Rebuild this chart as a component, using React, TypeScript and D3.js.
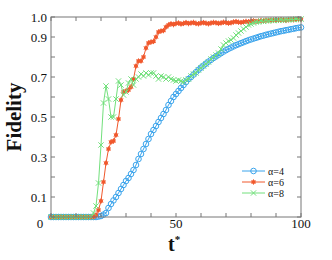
import React from "react";
import * as d3 from "d3";

const tValues = d3.range(0, 101);

// alpha = 4, blue circles
const fid4 = [
  0, 0, 0, 0, 0, 0, 0, 0, 0, 0,
  0, 0, 0, 0, 0, 0, 0, 0, 0, 0.002,
  0.005, 0.012, 0.02, 0.045, 0.065, 0.083, 0.1, 0.12, 0.14, 0.16,
  0.18, 0.195, 0.215, 0.235, 0.26, 0.29, 0.315, 0.34, 0.365, 0.39,
  0.415, 0.435, 0.455, 0.475, 0.495, 0.515, 0.535, 0.56, 0.58, 0.6,
  0.615, 0.63, 0.645, 0.66, 0.675, 0.69, 0.7, 0.712, 0.724, 0.736,
  0.747, 0.757, 0.767, 0.777, 0.786, 0.795, 0.803, 0.811, 0.819, 0.827,
  0.834, 0.841, 0.847, 0.853, 0.859, 0.864, 0.869, 0.874, 0.879, 0.884,
  0.888, 0.892, 0.896, 0.9, 0.904, 0.907, 0.911, 0.914, 0.917, 0.92,
  0.923, 0.926, 0.929, 0.931, 0.934, 0.936, 0.939, 0.941, 0.944, 0.946,
  0.948,
];

// alpha = 6, red stars
const fid6 = [
  0, 0, 0, 0, 0, 0, 0, 0, 0, 0,
  0, 0, 0, 0, 0, 0, 0, 0, 0.01, 0.035,
  0.08, 0.175, 0.27, 0.34, 0.375, 0.38, 0.41, 0.49, 0.585, 0.625,
  0.63, 0.635, 0.65, 0.69, 0.755, 0.78, 0.78, 0.8, 0.845, 0.87,
  0.875, 0.878, 0.9, 0.925, 0.93, 0.932, 0.95, 0.96, 0.966, 0.962,
  0.968, 0.97, 0.965, 0.968, 0.972, 0.967, 0.97, 0.973, 0.968, 0.966,
  0.97, 0.972, 0.969, 0.966, 0.97, 0.973, 0.971, 0.968, 0.97, 0.974,
  0.972, 0.969, 0.971, 0.975, 0.977, 0.974, 0.972, 0.975, 0.978, 0.976,
  0.979, 0.981, 0.978, 0.98, 0.983, 0.981, 0.984, 0.982, 0.985, 0.983,
  0.986, 0.984, 0.987, 0.985, 0.983, 0.986, 0.988, 0.986, 0.989, 0.987,
  0.988,
];

// alpha = 8, green crosses
const fid8 = [
  0, 0, 0, 0, 0, 0, 0, 0, 0, 0,
  0, 0, 0, 0, 0, 0, 0, 0.02, 0.055, 0.17,
  0.36, 0.57, 0.655, 0.59, 0.5, 0.5, 0.59, 0.68, 0.66, 0.61,
  0.625, 0.67, 0.69, 0.66, 0.69, 0.7, 0.715, 0.705, 0.72, 0.71,
  0.72, 0.72, 0.705, 0.69, 0.705, 0.7, 0.69, 0.7, 0.69, 0.685,
  0.68, 0.685, 0.68, 0.675, 0.685, 0.69, 0.705, 0.715, 0.72, 0.735,
  0.745, 0.755, 0.765, 0.775, 0.79, 0.8, 0.81, 0.82, 0.84, 0.86,
  0.87, 0.88, 0.885, 0.895, 0.91, 0.92, 0.93, 0.94, 0.95, 0.96,
  0.965, 0.97, 0.975, 0.975, 0.98, 0.978, 0.982, 0.98, 0.984, 0.982,
  0.985, 0.983, 0.986, 0.984, 0.987, 0.986, 0.988, 0.987, 0.99, 0.988,
  0.99,
];

const yTickLabels = ["0.1", "0.3", "0.5", "0.7", "0.9", "1.0"];
const xTickLabels = ["50", "100"];
const legendLabels = ["α=4", "α=6", "α=8"];

const BLUE = "#3ba4ec";
const RED = "#f0582c";
const GREEN = "#72e07c";
const AXIS = "#777";
const FONT = "'Liberation Serif', 'DejaVu Serif', serif";

export default function App() {
  const W = 332;
  const H = 260;
  const m = { left: 51, right: 31, top: 17, bottom: 43 };
  const x = d3.scaleLinear().domain([0, 100]).range([m.left, W - m.right]);
  const y = d3.scaleLinear().domain([0, 1]).range([H - m.bottom, m.top]);

  const line = d3
    .line<number>()
    .x((_, i) => x(tValues[i]))
    .y((d) => y(d));

  const xTicks = d3.range(0, 101, 10);
  const yTicks = d3.range(0, 11).map((i) => i / 10);
  const tl = 4;

  const cross = d3.symbol(d3.symbolX, 20)();
  const star = d3.symbol(d3.symbolAsterisk, 20)();

  const blueMarker = (cx: number, cy: number, k: number) => (
    <circle key={k} cx={cx} cy={cy} r={2.8} fill="none" stroke={BLUE} strokeWidth={1} />
  );
  const redMarker = (cx: number, cy: number, k: number) => (
    <g key={k} transform={`translate(${cx},${cy})`}>
      <circle r={2} fill={RED} />
      <path d={star as string} fill="none" stroke={RED} strokeWidth={0.9} />
    </g>
  );
  const greenMarker = (cx: number, cy: number, k: number) => (
    <path key={k} d={cross as string} transform={`translate(${cx},${cy})`} fill="none" stroke={GREEN} strokeWidth={1} />
  );

  const series = [
    { data: fid4, color: BLUE, marker: blueMarker },
    { data: fid6, color: RED, marker: redMarker },
    { data: fid8, color: GREEN, marker: greenMarker },
  ];

  const lx0 = 242;
  const lx1 = 265;
  const ly = [171, 182, 193];

  return (
    <svg width={W} height={H} style={{ position: "absolute", left: 0, top: 0, background: "#fff" }} fontFamily={FONT}>
      <rect width={W} height={H} fill="#fff" />
      {series.map((s, si) => (
        <g key={si}>
          <path d={line(s.data) || ""} fill="none" stroke={s.color} strokeWidth={1} />
          {s.data.map((d, i) => s.marker(x(tValues[i]), y(d), i))}
        </g>
      ))}

      {/* frame */}
      <rect x={m.left} y={m.top} width={x(100) - m.left} height={y(0) - m.top} fill="none" stroke={AXIS} strokeWidth={1} />
      {xTicks.map((t) => (
        <g key={"xt" + t} stroke={AXIS}>
          <line x1={x(t)} x2={x(t)} y1={y(0)} y2={y(0) - tl} />
          <line x1={x(t)} x2={x(t)} y1={y(1)} y2={y(1) + tl} />
        </g>
      ))}
      {yTicks.map((v) => (
        <g key={"yt" + v} stroke={AXIS}>
          <line x1={x(0)} x2={x(0) + tl} y1={y(v)} y2={y(v)} />
          <line x1={x(100)} x2={x(100) - tl} y1={y(v)} y2={y(v)} />
        </g>
      ))}

      {yTickLabels.map((s) => (
        <text key={s} x={x(0) - 4} y={y(+s)} dy="0.35em" textAnchor="end" fontSize={13} fill="#111">
          {s}
        </text>
      ))}
      <text x={40} y={228} textAnchor="middle" fontSize={13} fill="#111">
        0
      </text>
      {xTickLabels.map((s) => (
        <text key={s} x={x(+s)} y={228} textAnchor="middle" fontSize={13} fill="#111">
          {s}
        </text>
      ))}

      <text transform={`translate(21,${(y(0) + y(1)) / 2}) rotate(-90)`} textAnchor="middle" fontSize={21} fontWeight="bold" fill="#111">
        Fidelity
      </text>
      <text x={168} y={251} fontSize={20} fontWeight="bold" fill="#111">
        t<tspan dy={-8} fontSize={11}>*</tspan>
      </text>

      {series.map((s, i) => (
        <g key={"lg" + i}>
          <line x1={lx0} x2={lx1} y1={ly[i]} y2={ly[i]} stroke={s.color} strokeWidth={1} />
          {s.marker((lx0 + lx1) / 2, ly[i], 999)}
          <text x={lx1 + 3} y={ly[i]} dy="0.35em" fontSize={10} fill="#111">
            {legendLabels[i]}
          </text>
        </g>
      ))}
    </svg>
  );
}
